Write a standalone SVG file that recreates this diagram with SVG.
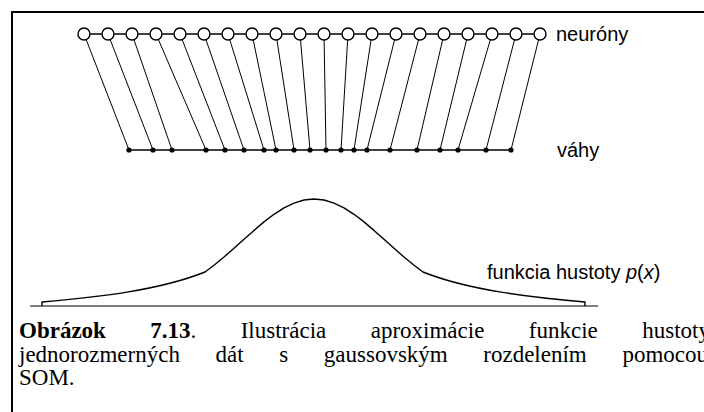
<svg xmlns="http://www.w3.org/2000/svg" width="704" height="412" viewBox="0 0 704 412">
<style>
.neu{fill:#fff;stroke:#000;stroke-width:1.4}
.w{fill:#000}
.ln{stroke:#000;stroke-width:1;fill:none}
.bar{stroke:#000;stroke-width:1.6;fill:none}
.lbl{font-family:"Liberation Sans",Arial,sans-serif;font-size:20px;fill:#000}
.cap{font-family:"Liberation Serif","Times New Roman",serif;font-size:23px;fill:#000}
</style>
<rect width="704" height="412" fill="#fff"/>
<path d="M12,412 V12 H704" fill="none" stroke="#000" stroke-width="2"/>
<g id="connectors">
<line class="bar" x1="84" y1="34" x2="540" y2="34"/>
<line class="bar" x1="129" y1="150" x2="511" y2="150"/>
<line class="ln" x1="84" y1="34" x2="129" y2="150"/>
<line class="ln" x1="108" y1="34" x2="153" y2="150"/>
<line class="ln" x1="132" y1="34" x2="172" y2="150"/>
<line class="ln" x1="156" y1="34" x2="206" y2="150"/>
<line class="ln" x1="180" y1="34" x2="225" y2="150"/>
<line class="ln" x1="204" y1="34" x2="244" y2="150"/>
<line class="ln" x1="228" y1="34" x2="264" y2="150"/>
<line class="ln" x1="252" y1="34" x2="276" y2="150"/>
<line class="ln" x1="276" y1="34" x2="294" y2="150"/>
<line class="ln" x1="300" y1="34" x2="310" y2="150"/>
<line class="ln" x1="324" y1="34" x2="326" y2="150"/>
<line class="ln" x1="348" y1="34" x2="341" y2="150"/>
<line class="ln" x1="372" y1="34" x2="354" y2="150"/>
<line class="ln" x1="396" y1="34" x2="367" y2="150"/>
<line class="ln" x1="420" y1="34" x2="390" y2="150"/>
<line class="ln" x1="444" y1="34" x2="417" y2="150"/>
<line class="ln" x1="468" y1="34" x2="440" y2="150"/>
<line class="ln" x1="492" y1="34" x2="458" y2="150"/>
<line class="ln" x1="516" y1="34" x2="486" y2="150"/>
<line class="ln" x1="540" y1="34" x2="511" y2="150"/>
</g>
<g id="neurons">
<g id="n1"><circle class="neu" cx="84" cy="34" r="6"/></g>
<g id="n2"><circle class="neu" cx="108" cy="34" r="6"/></g>
<g id="n3"><circle class="neu" cx="132" cy="34" r="6"/></g>
<g id="n4"><circle class="neu" cx="156" cy="34" r="6"/></g>
<g id="n5"><circle class="neu" cx="180" cy="34" r="6"/></g>
<g id="n6"><circle class="neu" cx="204" cy="34" r="6"/></g>
<g id="n7"><circle class="neu" cx="228" cy="34" r="6"/></g>
<g id="n8"><circle class="neu" cx="252" cy="34" r="6"/></g>
<g id="n9"><circle class="neu" cx="276" cy="34" r="6"/></g>
<g id="n10"><circle class="neu" cx="300" cy="34" r="6"/></g>
<g id="n11"><circle class="neu" cx="324" cy="34" r="6"/></g>
<g id="n12"><circle class="neu" cx="348" cy="34" r="6"/></g>
<g id="n13"><circle class="neu" cx="372" cy="34" r="6"/></g>
<g id="n14"><circle class="neu" cx="396" cy="34" r="6"/></g>
<g id="n15"><circle class="neu" cx="420" cy="34" r="6"/></g>
<g id="n16"><circle class="neu" cx="444" cy="34" r="6"/></g>
<g id="n17"><circle class="neu" cx="468" cy="34" r="6"/></g>
<g id="n18"><circle class="neu" cx="492" cy="34" r="6"/></g>
<g id="n19"><circle class="neu" cx="516" cy="34" r="6"/></g>
<g id="n20"><circle class="neu" cx="540" cy="34" r="6"/></g>
</g>
<g id="weights">
<g id="w1"><circle class="w" cx="129" cy="150" r="2.6"/></g>
<g id="w2"><circle class="w" cx="153" cy="150" r="2.6"/></g>
<g id="w3"><circle class="w" cx="172" cy="150" r="2.6"/></g>
<g id="w4"><circle class="w" cx="206" cy="150" r="2.6"/></g>
<g id="w5"><circle class="w" cx="225" cy="150" r="2.6"/></g>
<g id="w6"><circle class="w" cx="244" cy="150" r="2.6"/></g>
<g id="w7"><circle class="w" cx="264" cy="150" r="2.6"/></g>
<g id="w8"><circle class="w" cx="276" cy="150" r="2.6"/></g>
<g id="w9"><circle class="w" cx="294" cy="150" r="2.6"/></g>
<g id="w10"><circle class="w" cx="310" cy="150" r="2.6"/></g>
<g id="w11"><circle class="w" cx="326" cy="150" r="2.6"/></g>
<g id="w12"><circle class="w" cx="341" cy="150" r="2.6"/></g>
<g id="w13"><circle class="w" cx="354" cy="150" r="2.6"/></g>
<g id="w14"><circle class="w" cx="367" cy="150" r="2.6"/></g>
<g id="w15"><circle class="w" cx="390" cy="150" r="2.6"/></g>
<g id="w16"><circle class="w" cx="417" cy="150" r="2.6"/></g>
<g id="w17"><circle class="w" cx="440" cy="150" r="2.6"/></g>
<g id="w18"><circle class="w" cx="458" cy="150" r="2.6"/></g>
<g id="w19"><circle class="w" cx="486" cy="150" r="2.6"/></g>
<g id="w20"><circle class="w" cx="511" cy="150" r="2.6"/></g>
</g>
<g id="density">
<path d="M30,306 H598" stroke="#000" stroke-width="1" fill="none"/>
<path d="M42,306 V302 C100,297 160,290 205,272 L214,265.2 224,257 234,248.3 244,239.3 254,230.4 264,221.9 274,214.3 284,207.9 294,203.1 304,200 314,199 324,200 334,203.1 344,207.9 354,214.3 364,221.9 374,230.4 384,239.3 394,248.3 404,257 414,265.2 423,272 C468,290 528,297 585,302 V306" stroke="#000" stroke-width="1.4" stroke-linejoin="round" fill="none"/>
</g>
<g id="labels">
<text class="lbl" x="556" y="41">neuróny</text>
<text class="lbl" x="557" y="157">váhy</text>
<text class="lbl" x="487" y="279">funkcia hustoty <tspan font-style="italic">p</tspan>(<tspan font-style="italic">x</tspan>)</text>
</g>
<g id="caption" class="cap">
<text x="19" y="338"><tspan font-weight="bold">Obrázok</tspan></text>
<text x="150.3" y="338"><tspan font-weight="bold">7.13</tspan>.</text>
<text x="240.7" y="338">Ilustrácia</text>
<text x="370.7" y="338">aproximácie</text>
<text x="528.8" y="338">funkcie</text>
<text x="642.2" y="338">hustoty</text>
<text x="19" y="362">jednorozmerných</text>
<text x="215.6" y="362">dát</text>
<text x="279.3" y="362">s</text>
<text x="323.8" y="362">gaussovským</text>
<text x="483.3" y="362">rozdelením</text>
<text x="622.4" y="362">pomocou</text>
<text x="19" y="385">SOM.</text>
</g>
</svg>
